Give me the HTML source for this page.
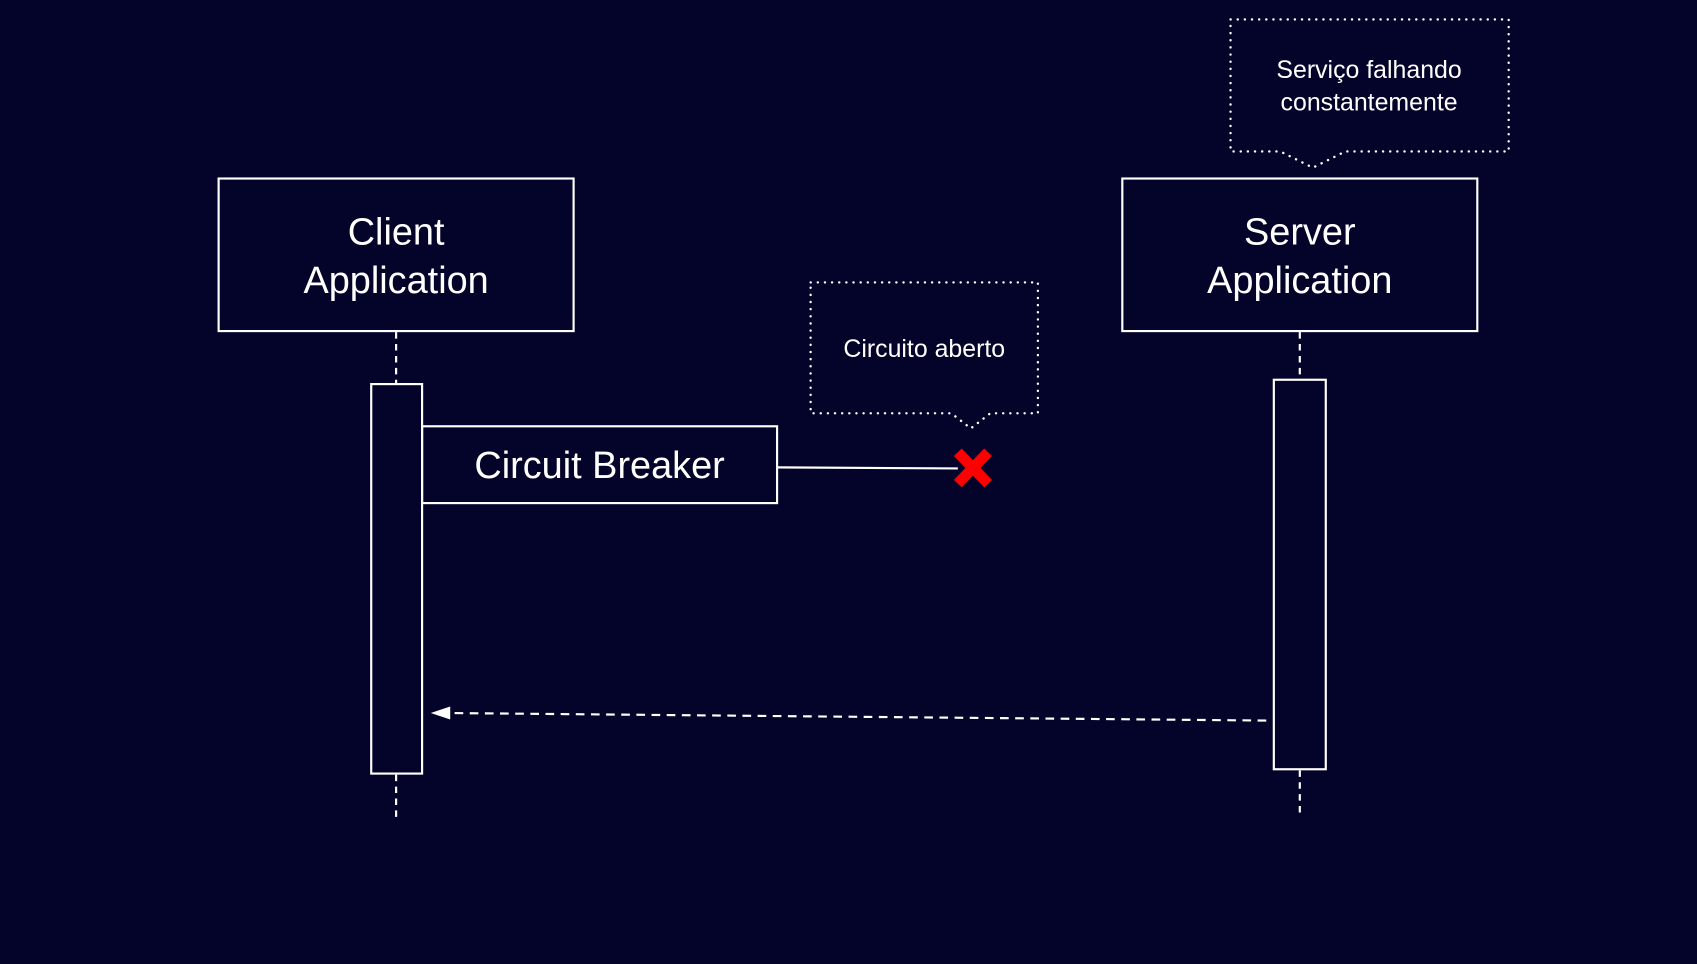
<!DOCTYPE html>
<html><head><meta charset="utf-8"><style>
html,body{margin:0;padding:0;background:#04042a;}
svg{display:block}
text{font-family:"Liberation Sans",sans-serif;fill:#fff;text-anchor:middle}
</style></head><body>
<svg width="1697" height="964" viewBox="0 0 1568 891" preserveAspectRatio="none" xmlns="http://www.w3.org/2000/svg">
<rect width="1568" height="891" fill="#04042a"/>
<g stroke="#fff" fill="none" stroke-width="2">
<rect x="202" y="165" width="328" height="141"/>
<rect x="1037" y="165" width="328" height="141"/>
<line x1="366" y1="307" x2="366" y2="355" stroke-dasharray="6,5"/>
<line x1="366" y1="716" x2="366" y2="758" stroke-dasharray="6,5"/>
<line x1="1201" y1="307" x2="1201" y2="351" stroke-dasharray="6,5"/>
<line x1="1201" y1="712" x2="1201" y2="755" stroke-dasharray="6,5"/>
<rect x="343" y="355" width="47" height="360"/>
<rect x="1177" y="351" width="48" height="360"/>
<rect x="390" y="394" width="328" height="71"/>
<line x1="718" y1="432" x2="885" y2="433"/>
<line x1="1170" y1="666" x2="410" y2="659" stroke-dasharray="8,6"/>
</g>
<polygon points="398,659 416,653 416,665" fill="#fff"/>
<g stroke="#fff" fill="none" stroke-width="2.2" stroke-dasharray="0.1,6.5" stroke-linecap="round">
<path d="M749,261 H959 V382 H915 L897,396 L879,382 H749 Z"/>
<path d="M1137,18 H1394 V140 H1243 L1213,155 L1183,140 H1137 Z"/>
</g>
<g stroke="#ff0000" stroke-width="10">
<line x1="885" y1="418" x2="913" y2="447"/>
<line x1="913" y1="418" x2="885" y2="447"/>
</g>
<text x="366" y="226" font-size="35">Client</text>
<text x="366" y="271" font-size="35">Application</text>
<text x="1201" y="226" font-size="35">Server</text>
<text x="1201" y="271" font-size="35">Application</text>
<text x="554" y="442" font-size="35">Circuit Breaker</text>
<text x="854" y="330" font-size="23">Circuito aberto</text>
<text x="1265" y="72" font-size="23">Serviço falhando</text>
<text x="1265" y="102" font-size="23">constantemente</text>
</svg>
</body></html>
